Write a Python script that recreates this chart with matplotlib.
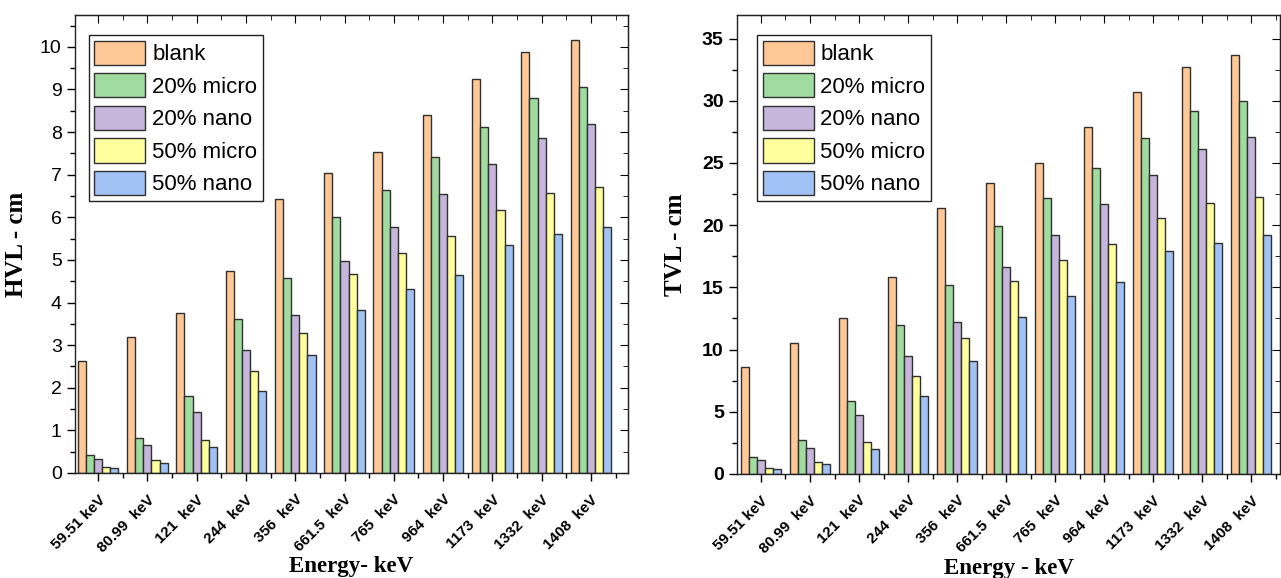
#!/usr/bin/env python3
"""HVL / TVL bar charts for blank and filled samples."""

import matplotlib
matplotlib.use("Agg")
import matplotlib.pyplot as plt
import matplotlib.transforms as mtransforms
import numpy as np
from matplotlib.ticker import MultipleLocator, FixedLocator

energies = ["59.51 keV", "80.99  keV", "121  keV", "244  keV", "356  keV",
            "661.5  keV", "765  keV", "964  keV", "1173  keV", "1332  keV",
            "1408  keV"]
series = ["blank", "20% micro", "20% nano", "50% micro", "50% nano"]

hvl_blank = [2.62, 3.20, 3.76, 4.75, 6.44, 7.03, 7.53, 8.39, 9.24, 9.88, 10.15]
hvl_20micro = [0.42, 0.83, 1.80, 3.62, 4.58, 6.01, 6.65, 7.42, 8.12, 8.80, 9.06]
hvl_20nano = [0.33, 0.65, 1.42, 2.89, 3.71, 4.98, 5.77, 6.54, 7.24, 7.86, 8.18]
hvl_50micro = [0.15, 0.30, 0.77, 2.39, 3.29, 4.67, 5.16, 5.57, 6.18, 6.56, 6.71]
hvl_50nano = [0.12, 0.23, 0.62, 1.92, 2.76, 3.82, 4.32, 4.64, 5.36, 5.60, 5.77]

tvl_blank = [8.6, 10.5, 12.5, 15.8, 21.4, 23.4, 25.0, 27.9, 30.7, 32.7, 33.7]
tvl_20micro = [1.4, 2.7, 5.9, 11.95, 15.2, 19.9, 22.2, 24.6, 27.0, 29.2, 30.0]
tvl_20nano = [1.1, 2.1, 4.7, 9.5, 12.25, 16.6, 19.2, 21.7, 24.0, 26.1, 27.1]
tvl_50micro = [0.5, 1.0, 2.6, 7.9, 10.95, 15.5, 17.2, 18.5, 20.6, 21.8, 22.3]
tvl_50nano = [0.4, 0.8, 2.0, 6.3, 9.1, 12.65, 14.3, 15.4, 17.9, 18.6, 19.2]

colors = ["#ffc896", "#a0dca0", "#c6b6dc", "#ffff9e", "#a0c2f5"]

plt.rcParams["font.family"] = ["Liberation Sans", "DejaVu Sans"]


def draw(fig, ax, data, ylabel, xlabel, ymax, ymajor, yminor, xlim, bold_ticks,
         ylabel_x, leg_anchor):
    x = np.arange(len(energies))
    width = 0.165
    for i, (vals, label, color) in enumerate(zip(data, series, colors)):
        ax.bar(x + (i - 2) * width, vals, width, color=color,
               edgecolor="#303030", linewidth=1.0, label=label)
    ax.set_xlim(*xlim)
    ax.set_ylim(0, ymax)
    ax.yaxis.set_major_locator(MultipleLocator(ymajor))
    ax.yaxis.set_minor_locator(MultipleLocator(yminor))
    ax.set_xticks(x)
    ax.set_xticklabels(energies, rotation=45, ha="right", va="top",
                       rotation_mode="anchor", fontsize=11, fontweight="bold")
    shift = mtransforms.ScaledTranslation(0.11, 0, fig.dpi_scale_trans)
    for t in ax.get_xticklabels():
        t.set_transform(t.get_transform() + shift)
    ax.xaxis.set_minor_locator(FixedLocator(np.arange(-0.5, len(energies) + 0.5, 1.0)))
    ax.tick_params(axis="both", which="major", direction="out", length=6,
                   width=1.0)
    ax.tick_params(axis="y", which="major", labelsize=14)
    ax.tick_params(axis="both", which="minor", direction="out", length=3.5, width=1.0)
    ax.tick_params(axis="x", which="major", pad=8)
    if bold_ticks:
        for t in ax.get_yticklabels():
            t.set_fontweight("bold")
    for s in ax.spines.values():
        s.set_linewidth(1.0)
        s.set_color("#222222")

    # mirrored ticks on top / right pointing inwards
    top = ax.secondary_xaxis("top")
    top.set_xticks(x)
    top.xaxis.set_minor_locator(FixedLocator(np.arange(-0.5, len(energies) + 0.5, 1.0)))
    top.tick_params(which="major", direction="in", length=6, labeltop=False)
    top.tick_params(which="minor", direction="in", length=3.5)
    right = ax.secondary_yaxis("right")
    right.yaxis.set_major_locator(MultipleLocator(ymajor))
    right.yaxis.set_minor_locator(MultipleLocator(yminor))
    right.tick_params(which="major", direction="in", length=6, labelright=False)
    right.tick_params(which="minor", direction="in", length=3.5)

    ax.set_ylabel(ylabel, family=["Liberation Serif"], fontweight="bold",
                  fontsize=18)
    ax.yaxis.set_label_coords(ylabel_x, 0.5)
    ax.set_xlabel(xlabel, family=["Liberation Serif"], fontweight="bold",
                  fontsize=16.5)
    ax.xaxis.set_label_coords(0.5, -0.182)
    ax.legend(loc="upper left", bbox_to_anchor=leg_anchor, fontsize=16,
              handlelength=2.3, handleheight=1.3, labelspacing=0.36,
              handletextpad=0.3, borderpad=0.25, borderaxespad=0.0,
              fancybox=False, framealpha=1.0, edgecolor="#222222")


fig = plt.figure(figsize=(12.81, 5.78), dpi=100)
ax1 = fig.add_axes([0.0585, 0.1817, 0.4317, 0.7925])
ax2 = fig.add_axes([0.5753, 0.1800, 0.4240, 0.7942])

draw(fig, ax1, [hvl_blank, hvl_20micro, hvl_20nano, hvl_50micro, hvl_50nano],
     "HVL - cm", "Energy- keV", 10.75, 1, 0.5, (-0.47, 10.75), False,
     -0.085, (0.025, 0.956))
draw(fig, ax2, [tvl_blank, tvl_20micro, tvl_20nano, tvl_50micro, tvl_50nano],
     "TVL - cm", "Energy - keV", 36.9, 5, 2.5, (-0.49, 10.59), True,
     -0.092, (0.037, 0.956))

fig.savefig("out.png", dpi=100)
